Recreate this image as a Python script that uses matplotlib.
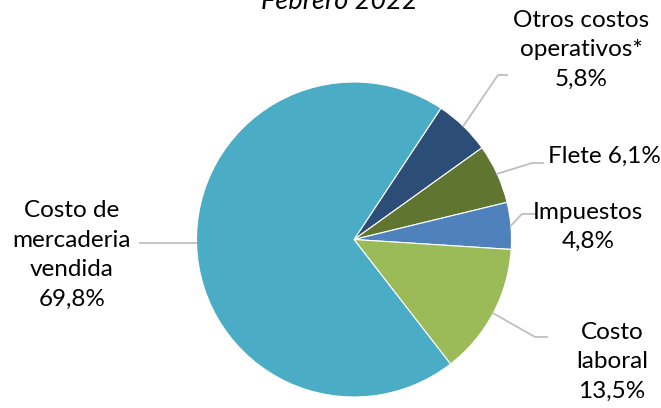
import numpy as np
import matplotlib
matplotlib.use("Agg")
import matplotlib.pyplot as plt

categories = ["Otros costos\noperativos*", "Flete", "Impuestos", "Costo\nlaboral", "Costo de\nmercaderia\nvendida"]
values = [5.8, 6.1, 4.8, 13.5, 69.8]
pct_labels = ["5,8%", "6,1%", "4,8%", "13,5%", "69,8%"]
colors = ["#2C4D75", "#5F7530", "#4F81BD", "#9BBB59", "#4BACC6"]
title = "Febrero 2022"

W, H = 661, 408
plt.rcParams['font.family'] = ['Lato', 'DejaVu Sans']
fig = plt.figure(figsize=(W / 100, H / 100), dpi=100)
ax = fig.add_axes([0, 0, 1, 1])

cx, cy, r = 354, H - 239.5, 157.5
wedges, _ = ax.pie(values, colors=colors, startangle=56.5, counterclock=False,
                   center=(cx, cy), radius=r, frame=True,
                   wedgeprops=dict(edgecolor='white', linewidth=0.8))
ax.set_xlim(0, W)
ax.set_ylim(0, H)
ax.set_aspect('equal')
ax.axis('off')

FS = 17.5
LS = 1.5
# label layout (pixel positions, y from top)
texts = [
    (categories[0] + "\n" + pct_labels[0], 581, 50),
    (categories[1] + " " + pct_labels[1], 604, 156),
    (categories[2] + "\n" + pct_labels[2], 588, 227),
    (categories[3] + "\n" + pct_labels[3], 612, 362),
    (categories[4] + "\n" + pct_labels[4], 72, 255),
]
# leader elbows (pixel, y from top): elbow point and end point
elbows = [((498, 75), (507, 75)),
          ((532, 163), (543, 163)),
          ((522, 214), (535, 214)),
          ((535, 337), (547, 337)),
          ((196, 243), (140, 243))]

for w, (t, x, y), (e1, e2) in zip(wedges, texts, elbows):
    ax.text(x, H - y, t, ha='center', va='center', fontsize=FS, color='black',
            linespacing=LS)
    ang = np.deg2rad((w.theta1 + w.theta2) / 2)
    sx, sy = cx + r * np.cos(ang), cy + r * np.sin(ang)
    if e1[0] < cx:
        ax.plot([e1[0], e2[0]], [H - e1[1], H - e2[1]], color='#BFBFBF', lw=1.3)
    else:
        ax.plot([sx, e1[0], e2[0]], [sy, H - e1[1], H - e2[1]], color='#BFBFBF', lw=1.3)

ax.text(339, H - 9, title, ha='center', va='baseline', fontsize=19.5, style='italic')

fig.savefig("out.png", dpi=100)
